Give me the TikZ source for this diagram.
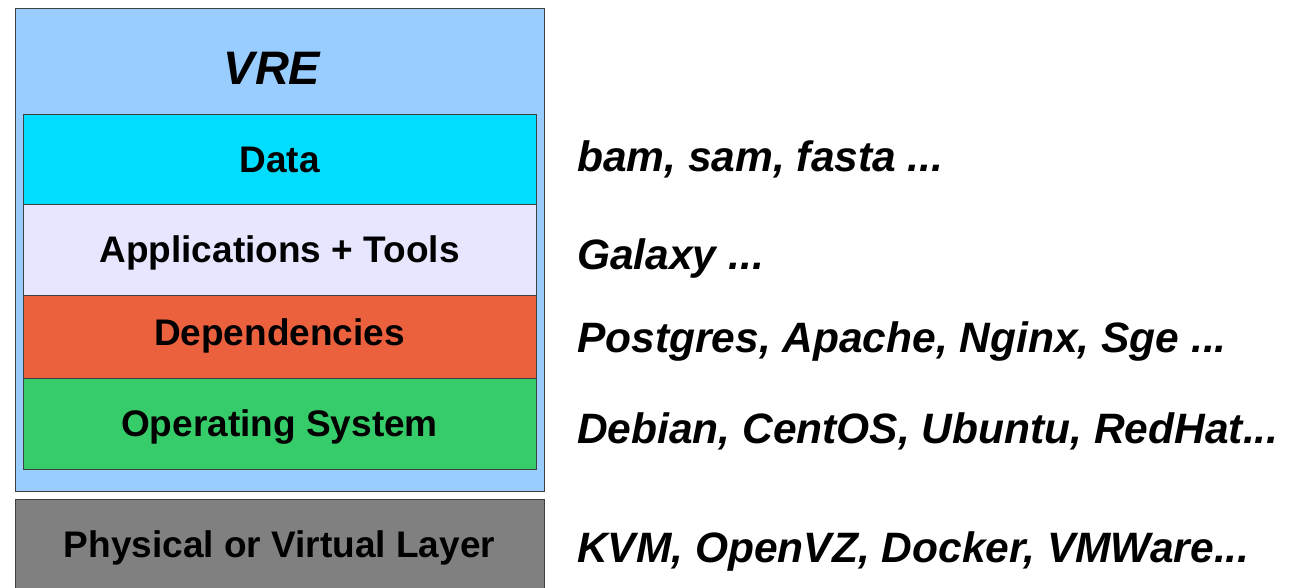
\documentclass[tikz,border=0pt]{standalone}
\usepackage{fontspec}
\setmainfont{Liberation Sans}
\begin{document}
\begin{tikzpicture}[x=1pt,y=-1pt,
  layer/.style={draw=black!75,line width=0.8pt,inner sep=0pt},
  ltext/.style={font=\bfseries\fontsize{37}{40}\selectfont,anchor=center,inner sep=0pt},
  rtext/.style={font=\bfseries\itshape\fontsize{42.5}{46}\selectfont,anchor=west,inner sep=0pt}]
\definecolor{vrebg}{HTML}{99CCFF}
\definecolor{datac}{HTML}{00DDFF}
\definecolor{appc}{HTML}{E6E6FF}
\definecolor{depc}{HTML}{EB613E}
\definecolor{osc}{HTML}{36CC6A}
\definecolor{physc}{HTML}{808080}
\useasboundingbox (0,0) rectangle (1295,588);
\fill[white] (0,0) rectangle (1295,588);
\draw[layer,fill=vrebg] (15,8) rectangle (544,491);
\node[font=\bfseries\itshape\fontsize{47}{50}\selectfont,inner sep=0pt] (vre) at (272,68) {VRE};
\draw[layer,fill=datac] (23,114) rectangle (536,204);
\draw[layer,fill=appc] (23,204) rectangle (536,295);
\draw[layer,fill=depc] (23,295) rectangle (536,378);
\draw[layer,fill=osc] (23,378) rectangle (536,469);
\draw[layer,fill=physc] (15,499) rectangle (544,600);
\node[ltext] (data) at (279.5,160) {Data};
\node[ltext] (app) at (279.5,253) {Applications + Tools};
\node[ltext] (dep) at (279.5,336) {Dependencies};
\node[ltext] (os) at (279.5,427) {Operating System};
\node[ltext] (phys) at (279.5,548) {Physical or Virtual Layer};
\node[rtext] (r1) at (577,159) {bam, sam, fasta ...};
\node[rtext] (r2) at (577,259) {Galaxy ...};
\node[rtext] (r3) at (577,342) {Postgres, Apache, Nginx, Sge ...};
\node[rtext] (r4) at (577,431) {Debian, CentOS, Ubuntu, RedHat...};
\node[rtext] (r5) at (577,552) {KVM, OpenVZ, Docker, VMWare...};
\end{tikzpicture}
\end{document}
